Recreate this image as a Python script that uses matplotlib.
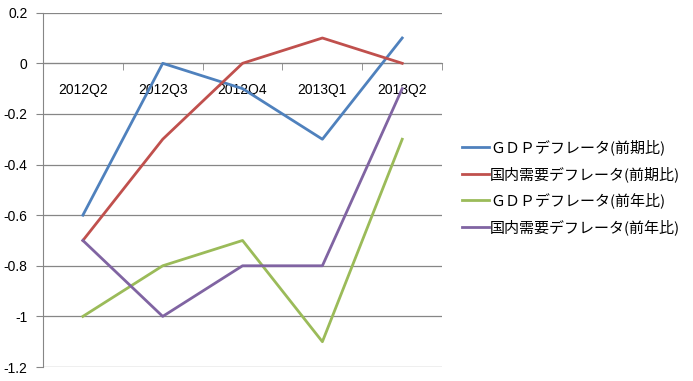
import numpy as np
import matplotlib.pyplot as plt

plt.rcParams['font.family'] = ['Liberation Sans', 'Noto Sans CJK JP', 'DejaVu Sans']

quarters = ['2012Q2', '2012Q3', '2012Q4', '2013Q1', '2013Q2']
gdp_qoq = [-0.6, 0.0, -0.1, -0.3, 0.1]
dom_qoq = [-0.7, -0.3, 0.0, 0.1, 0.0]
gdp_yoy = [-1.0, -0.8, -0.7, -1.1, -0.3]
dom_yoy = [-0.7, -1.0, -0.8, -0.8, -0.1]
names = ['ＧＤＰデフレータ(前期比)', '国内需要デフレータ(前期比)',
         'ＧＤＰデフレータ(前年比)', '国内需要デフレータ(前年比)']
colors = ['#4F81BD', '#C0504D', '#9BBB59', '#8064A2']

fig = plt.figure(figsize=(6.93, 3.81), dpi=100)
ax = fig.add_axes([0.062, 0.0367, 0.576, 0.930])

x = np.arange(len(quarters))
for y, name, c in zip([gdp_qoq, dom_qoq, gdp_yoy, dom_yoy], names, colors):
    ax.plot(x, y, color=c, lw=2.0, label=name, zorder=3)

grid_c = '#868686'
ax.set_xlim(-0.5, len(quarters) - 0.5)
ax.set_ylim(-1.2, 0.2)
yt = np.round(np.arange(-1.2, 0.21, 0.2), 1)
ax.set_yticks(yt)
ax.set_yticklabels(['0' if v == 0 else '%g' % v for v in yt], fontsize=10)
ax.yaxis.grid(True, color=grid_c, lw=0.9)
ax.set_axisbelow(True)

ax.spines['top'].set_visible(False)
ax.spines['right'].set_visible(False)
ax.spines['left'].set_color(grid_c)
ax.spines['bottom'].set_position(('data', 0))
ax.spines['bottom'].set_color(grid_c)

ax.set_xticks(x)
ax.set_xticklabels(quarters, fontsize=10)
ax.set_xticks(np.arange(-0.5, len(quarters)), minor=True)
ax.tick_params(axis='x', which='major', length=0, pad=14)
ax.tick_params(axis='x', which='minor', length=5, color=grid_c)
ax.tick_params(axis='y', length=5, color=grid_c, pad=6)

fig.legend(loc='upper left', bbox_to_anchor=(0.667, 0.634), frameon=False,
           prop={'family': ['Noto Sans CJK JP'], 'size': 10.8},
           borderpad=0, borderaxespad=0,
           handlelength=1.8, handletextpad=0.05, labelspacing=0.72)

fig.savefig('out.png', dpi=100)
